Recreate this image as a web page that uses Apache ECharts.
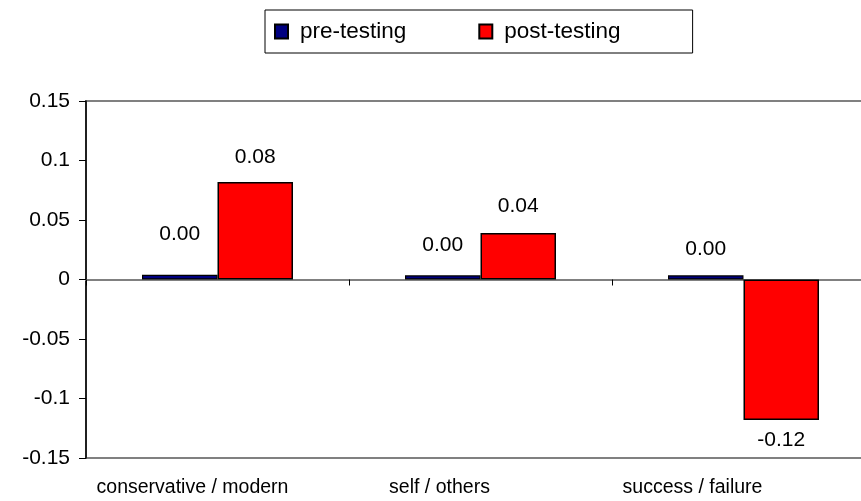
<!DOCTYPE html>
<html>
<head>
<meta charset="utf-8">
<script src="https://cdn.jsdelivr.net/npm/echarts@6/dist/echarts.min.js"></script>
<style>
html,body{margin:0;padding:0;background:#fff;overflow:hidden;width:861px;height:501px;}
#chart{width:890px;height:501px;}
</style>
</head>
<body>
<div id="chart"></div>
<script>
var categories = ['conservative / modern', 'self / others', 'success / failure'];
var preTesting = [0.004, 0.0035, 0.0035];
var postTesting = [0.082, 0.039, -0.118];
var yTicks = ['-0.15', '-0.1', '-0.05', '0', '0.05', '0.1', '0.15'];
var seriesNames = ['pre-testing', 'post-testing'];

// layout only: label distances and category label shifts
var preLabelDist = [30, 20, 16];
var postLabelDist = [14, 16, 10];
var catLabelShift = [50, 82, 102];

var FONT = '"Liberation Sans", Arial, sans-serif';

function withLabels(vals, dists) {
  return vals.map(function (v, i) {
    return { value: v, label: { distance: dists[i], position: v < 0 ? 'bottom' : 'top' } };
  });
}

var catData = categories.map(function (c, i) {
  return { value: c, textStyle: { padding: [0, catLabelShift[i], 0, 0] } };
});

var chart = echarts.init(document.getElementById('chart'));
chart.setOption({
  backgroundColor: '#ffffff',
  animation: false,
  textStyle: { fontFamily: FONT },
  legend: {
    data: seriesNames,
    left: 265,
    top: 10,
    padding: [10, 72, 10, 9],
    itemGap: 72,
    itemWidth: 13,
    itemHeight: 14,
    borderColor: '#000',
    borderWidth: 1,
    icon: 'rect',
    textStyle: { fontFamily: FONT, fontSize: 22.5, color: '#000', padding: [0, 0, 0, 7] }
  },
  grid: {
    left: 86,
    width: 789,
    top: 101,
    bottom: 43,
    show: true,
    borderColor: '#808080',
    borderWidth: 2,
    containLabel: false
  },
  xAxis: [
    {
      type: 'category',
      data: categories,
      position: 'bottom',
      axisLine: { onZero: true, lineStyle: { color: '#808080', width: 2 } },
      axisTick: { show: true, length: 6, lineStyle: { color: '#000', width: 1 } },
      axisLabel: { show: false }
    },
    {
      type: 'category',
      data: catData,
      position: 'bottom',
      axisLine: { show: false, onZero: false },
      axisTick: { show: false },
      axisLabel: { show: true, margin: 20, fontSize: 19.5, color: '#000', fontFamily: FONT }
    }
  ],
  yAxis: {
    type: 'value',
    min: -0.15,
    max: 0.15,
    interval: 0.05,
    splitLine: { show: false },
    axisLine: { show: true, lineStyle: { color: '#000', width: 1.5 } },
    axisTick: { show: true, length: 7, lineStyle: { color: '#000', width: 1 } },
    axisLabel: {
      margin: 16,
      fontSize: 21,
      color: '#000',
      fontFamily: FONT,
      formatter: function (v) {
        var s = String(Math.round(v * 100) / 100);
        var idx = yTicks.indexOf(s);
        return idx >= 0 ? yTicks[idx] : s;
      }
    }
  },
  series: [
    {
      name: seriesNames[0],
      type: 'bar',
      xAxisIndex: 0,
      data: withLabels(preTesting, preLabelDist),
      barWidth: 75.5,
      barGap: '0%',
      itemStyle: { color: '#000080', borderColor: '#000', borderWidth: 1.2 },
      label: {
        show: true,
        fontSize: 21,
        color: '#000',
        fontFamily: FONT,
        formatter: function (p) { return p.value.toFixed(2); }
      }
    },
    {
      name: seriesNames[1],
      type: 'bar',
      xAxisIndex: 0,
      data: withLabels(postTesting, postLabelDist),
      barWidth: 75.5,
      barGap: '0%',
      itemStyle: { color: '#FF0000', borderColor: '#000', borderWidth: 1.5 },
      label: {
        show: true,
        fontSize: 21,
        color: '#000',
        fontFamily: FONT,
        formatter: function (p) { return p.value.toFixed(2); }
      }
    }
  ]
});
</script>
</body>
</html>
